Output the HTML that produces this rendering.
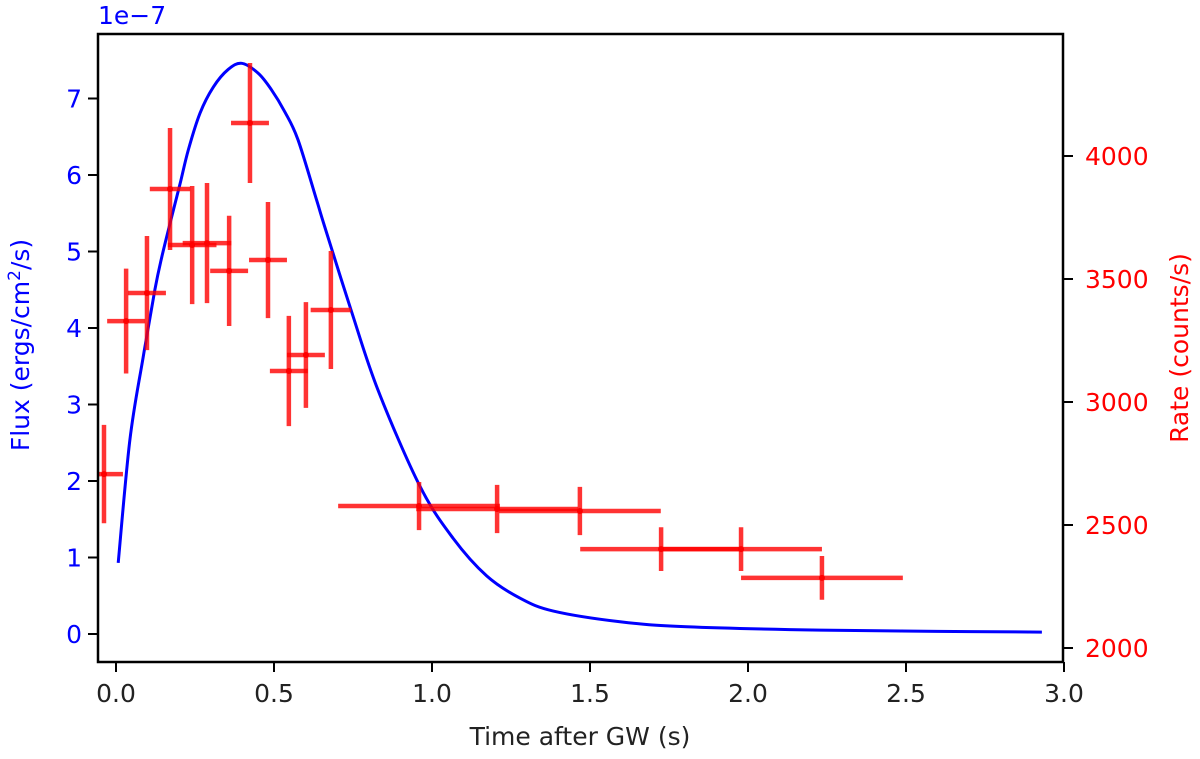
<!DOCTYPE html>
<html><head><meta charset="utf-8"><style>
html,body{margin:0;padding:0;background:#fff;}
svg{display:block;font-family:"DejaVu Sans","Liberation Sans",sans-serif;}
</style></head><body>
<svg id="chart" width="1200" height="759" viewBox="0 0 1200 759">
<g id="plot"></g>
</svg>
<script>
// data
const curveT = [0.007,0.044,0.086,0.123,0.145,0.176,0.203,0.229,0.266,0.308,0.355,0.398,0.45,0.491,0.535,0.576,0.635,0.66,0.745,0.829,0.962,1.067,1.173,1.278,1.384,1.595,1.806,2.228,2.6,2.93];
const curveFlux = [0.93,2.54,3.62,4.50,4.93,5.45,5.89,6.33,6.81,7.15,7.38,7.46,7.33,7.12,6.82,6.46,5.67,5.33,4.22,3.19,1.93,1.25,0.76,0.47,0.30,0.16,0.095,0.05,0.035,0.025];
const binT = [-0.038,0.032,0.098,0.171,0.241,0.288,0.358,0.424,0.481,0.547,0.601,0.68,0.959,1.206,1.468,1.725,1.978,2.234];
const binHalfWidth = [0.06,0.06,0.06,0.064,0.077,0.077,0.06,0.06,0.06,0.06,0.06,0.064,0.256,0.256,0.256,0.256,0.256,0.256];
const rate = [2707,3329,3443,3866,3638,3646,3533,4134,3577,3126,3191,3374,2577,2565,2557,2402,2402,2285];
const rateErr = [200,213,232,248,240,244,224,244,236,224,215,240,98,98,98,89,89,89];
const xTicks = [0,0.5,1.0,1.5,2.0,2.5,3.0];
const xTickLabels = ["0.0","0.5","1.0","1.5","2.0","2.5","3.0"];
const fluxTicks = [0,1,2,3,4,5,6,7];
const rateTicks = [2000,2500,3000,3500,4000];

const L=98,R=1063,T=34,B=662;
const X=t=>116+316*t;
const YF=f=>634-76.5*f;
const YR=r=>648-(r-2000)*123/500;
const NS="http://www.w3.org/2000/svg";
const svg=document.getElementById('chart');
function mk(tag,attrs,parent){const e=document.createElementNS(NS,tag);for(const k in attrs)e.setAttribute(k,attrs[k]);(parent||svg).appendChild(e);return e;}

const defs=mk('defs',{});
const cp=mk('clipPath',{id:'clip'},defs);
mk('rect',{x:L,y:T,width:R-L,height:B-T},cp);

// curve
let pts=curveT.map((t,i)=>[X(t),YF(curveFlux[i])]);
let d='M'+pts[0][0]+','+pts[0][1];
for(let i=0;i<pts.length-1;i++){
  const p0=pts[Math.max(0,i-1)],p1=pts[i],p2=pts[i+1],p3=pts[Math.min(pts.length-1,i+2)];
  const c1=[p1[0]+(p2[0]-p0[0])/6,p1[1]+(p2[1]-p0[1])/6];
  const c2=[p2[0]-(p3[0]-p1[0])/6,p2[1]-(p3[1]-p1[1])/6];
  d+=` C${c1[0]},${c1[1]} ${c2[0]},${c2[1]} ${p2[0]},${p2[1]}`;
}
const curve=mk('path',{d:d,fill:'none',stroke:'#0000ff','stroke-width':3,'clip-path':'url(#clip)'});



// error bars
const eg=mk('g',{'clip-path':'url(#clip)',stroke:'#ff0000','stroke-opacity':0.8,'stroke-width':4.5,fill:'none'});


binT.forEach((t,i)=>{
  const g=mk('g',{},eg);
  
  
  const cx=X(t),cy=YR(rate[i]);
  mk('line',{x1:X(t-binHalfWidth[i]),x2:X(t+binHalfWidth[i]),y1:cy,y2:cy},g);
  mk('line',{x1:cx,x2:cx,y1:YR(rate[i]-rateErr[i]),y2:YR(rate[i]+rateErr[i])},g);
  mk('circle',{cx:cx,cy:cy,r:3,fill:'#ff0000',stroke:'none'},g);
});

// frame
const fr=mk('rect',{x:L,y:T,width:R-L,height:B-T,fill:'none',stroke:'#000','stroke-width':2.5});



// x ticks
xTicks.forEach((v,i)=>{
  mk('line',{x1:X(v),x2:X(v),y1:B,y2:B+10,stroke:'#000','stroke-width':2});
  const tx=mk('text',{x:X(v),y:B+40,'text-anchor':'middle','font-size':25,fill:'#222'});
  tx.textContent=xTickLabels[i];
  
  
});
// left ticks
fluxTicks.forEach(v=>{
  mk('line',{x1:L-10,x2:L,y1:YF(v),y2:YF(v),stroke:'#000','stroke-width':2});
  const tx=mk('text',{x:L-16,y:YF(v)+9,'text-anchor':'end','font-size':25,fill:'#0000ff'});
  tx.textContent=String(v);
  
  
});
// right ticks
rateTicks.forEach(v=>{
  mk('line',{x1:R,x2:R+10,y1:YR(v),y2:YR(v),stroke:'#000','stroke-width':2});
  const tx=mk('text',{x:R+22,y:YR(v)+9,'text-anchor':'start','font-size':25,fill:'#ff0000'});
  tx.textContent=String(v);
  
  
});
</script>
<script>
const s=document.getElementById('chart');
s.insertAdjacentHTML('beforeend',
 '<text x="98" y="24" font-size="25" fill="#0000ff">1e\u22127</text>'+
 '<text x="580" y="745" text-anchor="middle" font-size="25" fill="#222">Time after GW (s)</text>'+
 '<text transform="translate(29,345) rotate(-90)" text-anchor="middle" font-size="25" fill="#0000ff">Flux (ergs/cm<tspan font-size="17" dy="-9">2</tspan><tspan dy="9">/s)</tspan></text>'+
 '<text transform="translate(1188,348) rotate(-90)" text-anchor="middle" font-size="25" fill="#ff0000">Rate (counts/s)</text>');
</script>
</body></html>
